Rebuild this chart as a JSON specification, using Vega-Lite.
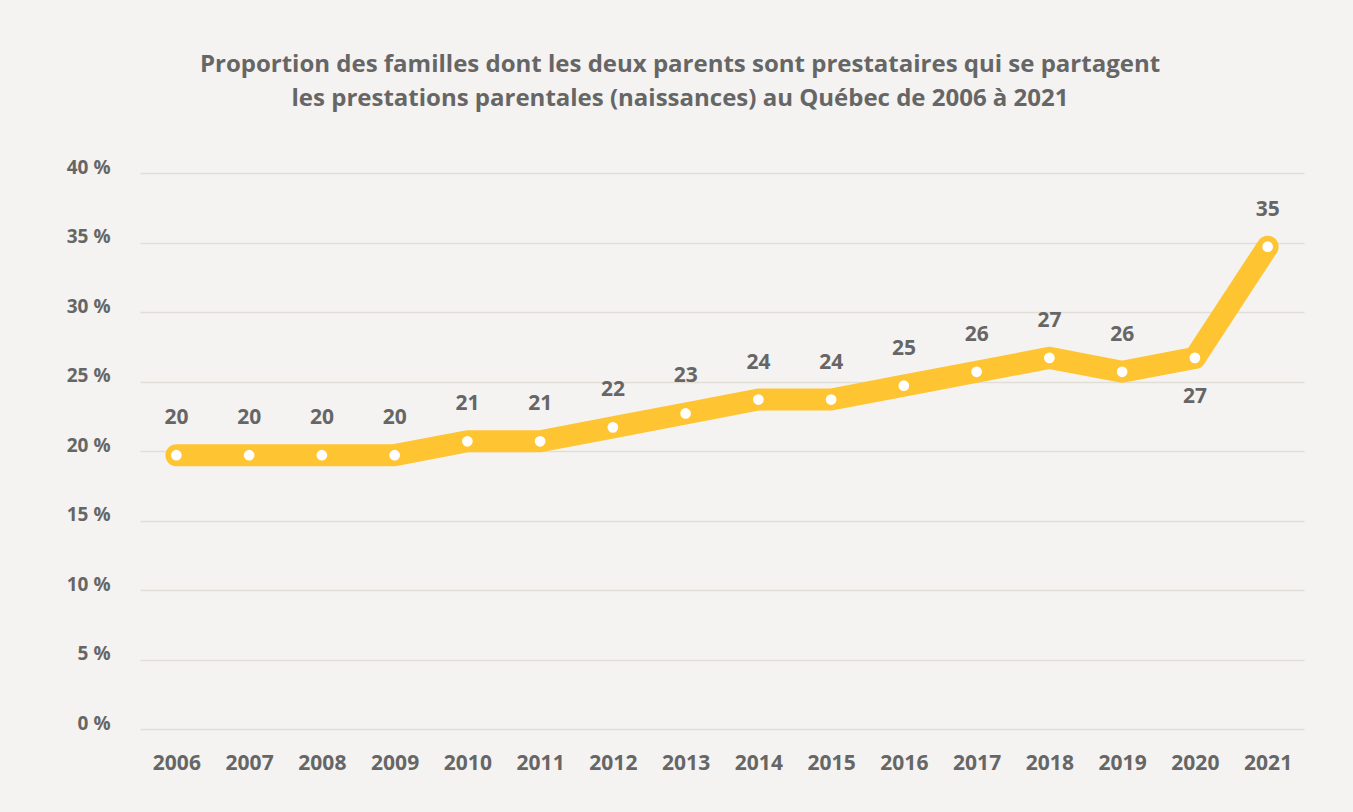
{
  "$schema": "https://vega.github.io/schema/vega-lite/v6.json",
  "width": 1164,
  "height": 556,
  "autosize": "none",
  "padding": {"left": 140, "top": 173, "right": 49, "bottom": 83},
  "background": "#f4f3f1",
  "title": {
    "text": ["Proportion des familles dont les deux parents sont prestataires qui se partagent", "les prestations parentales (naissances) au Québec de 2006 à 2021"],
    "font": "Open Sans",
    "fontSize": 24,
    "fontWeight": "bold",
    "color": "#666666",
    "lineHeight": 34,
    "anchor": "middle",
    "dx": -42,
    "offset": 47
  },
  "config": {
    "view": {"stroke": null},
    "font": "Open Sans"
  },
  "data": {
    "values": [
      {"year": "2006", "value": 19.7},
      {"year": "2007", "value": 19.7},
      {"year": "2008", "value": 19.7},
      {"year": "2009", "value": 19.7},
      {"year": "2010", "value": 20.7},
      {"year": "2011", "value": 20.7},
      {"year": "2012", "value": 21.7},
      {"year": "2013", "value": 22.7},
      {"year": "2014", "value": 23.7},
      {"year": "2015", "value": 23.7},
      {"year": "2016", "value": 24.7},
      {"year": "2017", "value": 25.7},
      {"year": "2018", "value": 26.7},
      {"year": "2019", "value": 25.7},
      {"year": "2020", "value": 26.7},
      {"year": "2021", "value": 34.7}
    ]
  },
  "encoding": {
    "x": {
      "field": "year",
      "type": "ordinal",
      "scale": {"type": "point", "padding": 0.5},
      "axis": {
        "title": null,
        "labelAngle": 0,
        "domain": false,
        "ticks": false,
        "labelFont": "Open Sans",
        "labelFontSize": 21,
        "labelFontWeight": "bold",
        "labelColor": "#666666",
        "labelPadding": 23
      }
    },
    "y": {
      "field": "value",
      "type": "quantitative",
      "scale": {"domain": [0, 40]},
      "axis": {
        "title": null,
        "values": [0, 5, 10, 15, 20, 25, 30, 35, 40],
        "labelExpr": "datum.value + ' %'",
        "domain": false,
        "ticks": false,
        "gridColor": "#e1ded7",
        "gridWidth": 1.5,
        "labelFont": "Open Sans",
        "labelFontSize": 19,
        "labelFontWeight": "bold",
        "labelColor": "#666666",
        "labelPadding": 30,
        "labelBaseline": "alphabetic",
        "labelBaselineOffset": 0
      }
    }
  },
  "layer": [
    {
      "mark": {"type": "line", "color": "#ffc431", "strokeWidth": 22, "strokeCap": "round", "strokeJoin": "round"}
    },
    {
      "mark": {"type": "point", "filled": true, "color": "#ffffff", "opacity": 1, "size": 115}
    },
    {
      "transform": [{"filter": "datum.year != '2020'"}],
      "mark": {"type": "text", "dy": -37, "font": "Open Sans", "fontSize": 21, "fontWeight": "bold", "color": "#666666"},
      "encoding": {"text": {"field": "value", "type": "quantitative", "format": ".0f"}}
    },
    {
      "transform": [{"filter": "datum.year == '2020'"}],
      "mark": {"type": "text", "dy": 39, "font": "Open Sans", "fontSize": 21, "fontWeight": "bold", "color": "#666666"},
      "encoding": {"text": {"field": "value", "type": "quantitative", "format": ".0f"}}
    }
  ]
}
